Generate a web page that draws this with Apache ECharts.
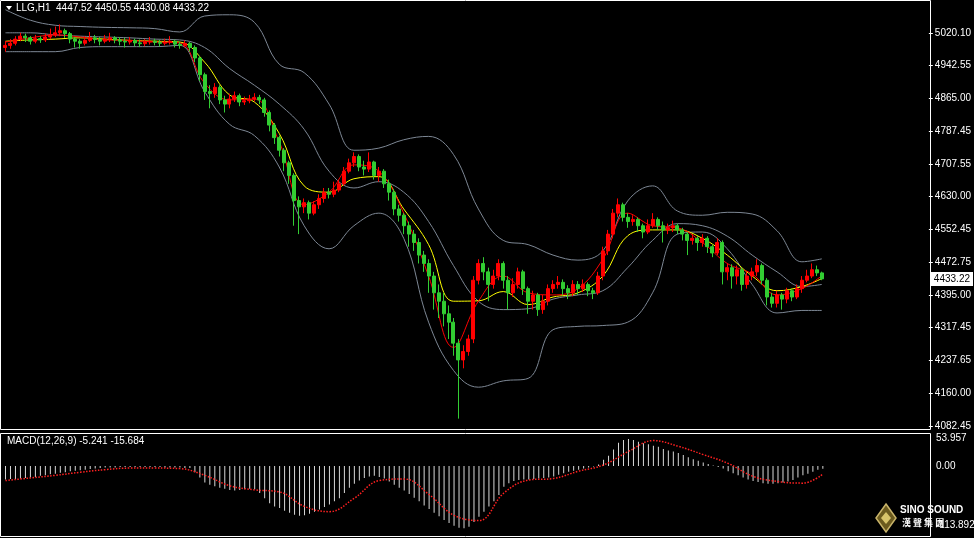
<!DOCTYPE html>
<html><head><meta charset="utf-8">
<script src="https://cdn.jsdelivr.net/npm/echarts@6/dist/echarts.min.js"></script>
<style>html,body{margin:0;padding:0;background:#000}#c{width:974px;height:538px}</style>
</head><body><div id="c"></div>
<script>
const closes=[4990,4995,5005,5012,5008,5000,5006,5003,5010,5015,5020,5025,5018,5005,5000,4995,5002,5008,5004,5000,5005,5008,5003,5000,4998,5002,4996,4994,4998,5000,4997,4995,4998,5000,4993,4990,4995,4985,4960,4920,4880,4875,4890,4860,4850,4862,4870,4855,4858,4862,4866,4860,4830,4800,4770,4740,4710,4680,4620,4605,4615,4590,4610,4625,4640,4635,4645,4660,4690,4710,4725,4700,4695,4712,4680,4690,4660,4640,4600,4585,4560,4540,4520,4490,4470,4440,4400,4380,4350,4330,4280,4240,4260,4290,4430,4470,4450,4420,4440,4470,4430,4400,4420,4450,4410,4380,4395,4360,4380,4410,4420,4425,4410,4400,4420,4410,4420,4405,4400,4440,4500,4540,4590,4610,4580,4570,4575,4560,4545,4560,4575,4560,4550,4555,4560,4550,4540,4525,4530,4520,4530,4510,4495,4520,4450,4460,4440,4455,4420,4440,4450,4465,4430,4390,4375,4395,4385,4405,4390,4410,4430,4440,4455,4447.52,4433.22];
const opens=[4985,4990,4995,5005,5012,5008,5000,5006,5003,5010,5015,5020,5025,5018,5005,5000,4995,5002,5008,5004,5000,5005,5008,5003,5000,4998,5002,4996,4994,4998,5000,4997,4995,4998,5000,4993,4990,4995,4985,4960,4920,4880,4875,4890,4860,4850,4862,4870,4855,4858,4862,4866,4860,4830,4800,4770,4740,4710,4680,4620,4605,4615,4590,4610,4625,4640,4635,4645,4660,4690,4710,4725,4700,4695,4712,4680,4690,4660,4640,4600,4585,4560,4540,4520,4490,4470,4440,4400,4380,4350,4330,4280,4240,4260,4290,4430,4470,4450,4420,4440,4470,4430,4400,4420,4450,4410,4380,4395,4360,4380,4410,4420,4425,4410,4400,4420,4410,4420,4405,4400,4440,4500,4540,4590,4610,4580,4570,4575,4560,4545,4560,4575,4560,4550,4555,4560,4550,4540,4525,4530,4520,4530,4510,4495,4520,4450,4460,4440,4455,4420,4440,4450,4465,4430,4390,4375,4395,4385,4405,4390,4410,4430,4440,4455,4447.52];
const highs=[5000,5005,5012,5020,5018,5012,5015,5012,5018,5030,5035,5040,5030,5022,5010,5005,5012,5022,5015,5010,5015,5020,5012,5010,5008,5010,5006,5004,5005,5010,5006,5003,5006,5012,5004,4998,5002,4998,4990,4965,4925,4895,4900,4895,4870,4875,4880,4875,4868,4872,4876,4872,4865,4835,4805,4775,4745,4715,4685,4630,4625,4620,4618,4635,4650,4650,4665,4670,4700,4720,4735,4730,4715,4735,4715,4700,4695,4670,4648,4610,4590,4570,4550,4530,4500,4480,4450,4420,4400,4370,4340,4290,4275,4300,4440,4480,4485,4460,4455,4480,4475,4440,4435,4460,4455,4415,4405,4400,4395,4420,4430,4440,4432,4418,4430,4428,4432,4425,4412,4450,4510,4550,4600,4625,4615,4590,4585,4580,4565,4575,4590,4580,4570,4565,4572,4565,4555,4545,4540,4535,4540,4535,4515,4530,4525,4470,4468,4465,4460,4450,4460,4480,4470,4435,4400,4405,4400,4412,4410,4420,4440,4455,4470,4465,4450.55];
const lows=[4975,4982,4990,5000,4998,4992,4995,4996,4998,5005,5010,5012,5008,4995,4985,4982,4990,4998,4995,4990,4995,4998,4995,4990,4985,4992,4988,4986,4988,4992,4990,4987,4990,4992,4985,4982,4985,4975,4950,4905,4860,4840,4865,4850,4830,4840,4855,4845,4848,4852,4856,4850,4820,4785,4755,4725,4690,4660,4560,4540,4590,4575,4585,4600,4615,4625,4628,4640,4655,4685,4700,4690,4680,4688,4670,4665,4650,4620,4585,4570,4540,4510,4500,4470,4450,4400,4360,4340,4320,4290,4250,4100,4220,4250,4280,4420,4430,4380,4410,4430,4410,4360,4390,4410,4395,4350,4360,4345,4350,4370,4400,4410,4395,4385,4392,4395,4402,4392,4385,4395,4430,4490,4530,4580,4570,4555,4560,4545,4530,4540,4555,4550,4520,4540,4545,4540,4525,4490,4515,4500,4510,4495,4485,4490,4420,4430,4410,4420,4405,4410,4430,4440,4420,4370,4365,4365,4360,4375,4380,4385,4400,4425,4435,4440,4430.08];
// sampled every 5 bars (0,5,...,160) plus last bar 164
const sampleIdx=[0,5,10,15,20,25,30,35,40,45,50,55,60,65,70,75,80,85,90,95,100,105,110,115,120,125,130,135,140,145,150,155,160,164];
const bbUpper=[5075,5050,5038,5035,5033,5032,5030,5022,5060,5063,5045,4945,4925,4850,4740,4745,4765,4773,4730,4600,4525,4515,4490,4478,4500,4619,4655,4595,4585,4592,4588,4548,4474,4481];
const bbMiddle=[5020,5020,5015,5012,5010,5008,5005,5003,4985,4935,4895,4850,4790,4690,4650,4665,4640,4570,4465,4380,4360,4362,4385,4395,4405,4460,4525,4565,4560,4535,4490,4450,4415,4420];
const bbLower=[4975,4975,4975,4985,4987,4987,4987,4990,4880,4802,4775,4700,4560,4505,4560,4590,4530,4330,4215,4175,4190,4196,4312,4320,4322,4330,4400,4540,4545,4505,4420,4352,4358,4358];
const maSlow=[5000,5003,5005,5008,5005,5002,5000,4998,4950,4872,4855,4780,4655,4640,4672,4677,4600,4515,4380,4381,4403,4372,4390,4400,4440,4536,4550,4550,4530,4490,4440,4405,4415,4434];
const maFast=[4998,5008,5015,5010,5003,5002,4998,4996,4900,4860,4862,4760,4610,4640,4705,4690,4590,4440,4270,4380,4440,4400,4395,4410,4480,4590,4560,4555,4520,4470,4445,4395,4410,4441];
const macdMain=[-26,-25,-25,-24,-23,-22,-21,-19,-18,-16,-15,-13,-12,-10,-9,-8,-7,-6,-5,-4,-3,-3,-3,-2,-2,-2,-2,-2,-2,-2,-2,-2,-3,-3,-3,-3,-4,-4,-12,-22,-32,-36,-39,-42,-44,-46,-47,-46,-45,-44,-45,-52,-62,-72,-78,-81,-86,-90,-94,-96,-95,-92,-88,-84,-79,-74,-68,-62,-52,-42,-34,-28,-23,-20,-19,-21,-24,-30,-36,-42,-47,-54,-61,-68,-76,-83,-90,-97,-104,-110,-115,-119,-120,-117,-108,-98,-88,-78,-68,-56,-40,-33,-29,-27,-26,-26,-25,-24,-23,-22,-20,-17,-14,-11,-9,-7,-5,-3,-1,3,12,20,32,45,50,52,50,47,44,42,39,37,33,30,28,25,21,17,13,10,7,4,1,-2,-5,-10,-14,-18,-22,-26,-29,-31,-33,-34,-34,-33,-32,-30,-27,-22,-18,-15,-11,-7,-5.241];
const macdSignal=[-28,-23,-18,-12,-7,-4,-4,-5,-18,-38,-46,-50,-78,-88,-62,-28,-25,-55,-95,-105,-52,-27,-24,-10,2,28,49,38,22,5,-20,-30,-33,-15.684];
const priceTicks=['4082.45','4160.00','4237.65','4317.45','4395.00','4472.75','4552.45','4630.00','4707.55','4787.45','4865.00','4942.55','5020.10'];
const macdTicks=[53.957,0.00,-113.892];
const macdTickLabels=['53.957','0.00','-113.892'];
const headerText='LLG,H1  4447.52 4450.55 4430.08 4433.22';
const macdText='MACD(12,26,9) -5.241 -15.684';
const lastPrice=4433.22;

const NSLOT=186;
const cats=[];for(let i=0;i<NSLOT;i++)cats.push(i);
const ohlc=closes.map((c,i)=>[opens[i],c,lows[i],highs[i]]);
function sparse(vals){const a=new Array(NSLOT).fill(null);sampleIdx.forEach((k,j)=>a[k]=vals[j]);return a;}
const yMin=4082.45, yStep=78.1375;
function line(name,vals,color,w,xi,yi,type){return {name,type:'line',data:sparse(vals),xAxisIndex:xi,yAxisIndex:yi,connectNulls:true,smooth:0.4,symbol:'none',silent:true,lineStyle:{color,width:w,type:type||'solid'},z:type?5:3};}
const chart=echarts.init(document.getElementById('c'));
const F='"Liberation Sans", Arial, sans-serif';
const hidden={color:'rgba(0,0,0,0)',width:0};
chart.setOption({
 backgroundColor:'#000',animation:false,
 grid:[{left:3,right:44,top:-2,height:428},{left:3,right:44,top:434,height:102}],
 xAxis:[{type:'category',data:cats,gridIndex:0,show:false,boundaryGap:true},{type:'category',data:cats,gridIndex:1,show:false,boundaryGap:true}],
 yAxis:[{type:'value',gridIndex:0,position:'right',min:yMin,max:yMin+13*yStep,interval:yStep,splitLine:{show:false},
   axisLine:{show:false},axisTick:{show:true,length:4,lineStyle:{color:'#fff'}},
   axisLabel:{color:'#fff',fontSize:10,fontFamily:F,margin:6,showMaxLabel:false,formatter:v=>{const k=Math.round((v-yMin)/yStep);return priceTicks[k]||'';}}},
  {type:'value',gridIndex:1,position:'right',min:-134.9,max:61.7,splitLine:{show:false},axisLine:{show:false},
   axisTick:{show:false},axisLabel:{show:false}}],
 graphic:[
  {type:'rect',shape:{x:0.5,y:0.5,width:930,height:429},style:{fill:'none',stroke:'#fff',lineWidth:1},silent:true},
  {type:'rect',shape:{x:0.5,y:433.5,width:930,height:103},style:{fill:'none',stroke:'#fff',lineWidth:1},silent:true},
  {type:'polygon',shape:{points:[[6,6],[12,6],[9,10]]},style:{fill:'#fff'}},
  {type:'text',left:16,top:3,style:{text:headerText,fill:'#fff',font:'10px '+F}},
  {type:'text',left:7,top:436,style:{text:macdText,fill:'#fff',font:'10px '+F}},
  {type:'polygon',shape:{points:[[886,504],[896,518],[886,532],[876,518]]},style:{fill:'#6b5a1e',stroke:'#c9b46a',lineWidth:1.5}},
  {type:'polygon',shape:{points:[[886,512],[891,518],[886,524],[881,518]]},style:{fill:'#d8c46a'}},
  {type:'text',left:900,top:505,style:{text:'SINO SOUND',fill:'#fff',font:'bold 10px '+F}},
  {type:'text',left:902,top:518,style:{text:'漢 聲 集 團',fill:'#fff',font:'bold 9px "Noto Sans CJK TC"'}}
 ],
 series:[
  line('upper',bbUpper,'#7d8794',1,0,0),
  line('middle',bbMiddle,'#7d8794',1,0,0),
  line('lower',bbLower,'#7d8794',1,0,0),
  {type:'candlestick',data:ohlc,xAxisIndex:0,yAxisIndex:0,barWidth:3.5,z:4,
   itemStyle:{color:'#ff0000',color0:'#32cd32',borderColor:'#ff0000',borderColor0:'#32cd32',borderWidth:1},
   markLine:{silent:true,symbol:['none','none'],lineStyle:hidden,data:[{yAxis:lastPrice}],
    label:{show:true,position:'end',distance:2,formatter:lastPrice.toFixed(2),backgroundColor:'#fff',color:'#000',fontSize:10,fontFamily:F,padding:[2,3]}}},
  line('maSlow',maSlow,'#ffff00',1,0,0),
  line('maFast',maFast,'#ff0000',1,0,0),
  {type:'bar',data:macdMain,xAxisIndex:1,yAxisIndex:1,barWidth:1,itemStyle:{color:'#d9d9d9'},silent:true,
   markLine:{silent:true,symbol:['none','none'],lineStyle:hidden,data:macdTicks.map(v=>({yAxis:v})),
    label:{show:true,position:'end',distance:6,color:'#fff',fontSize:10,fontFamily:F,formatter:p=>macdTickLabels[p.dataIndex]}}},
  line('signal',macdSignal,'#ff2020',1.5,1,1,'dotted')
 ]
});
</script></body></html>
